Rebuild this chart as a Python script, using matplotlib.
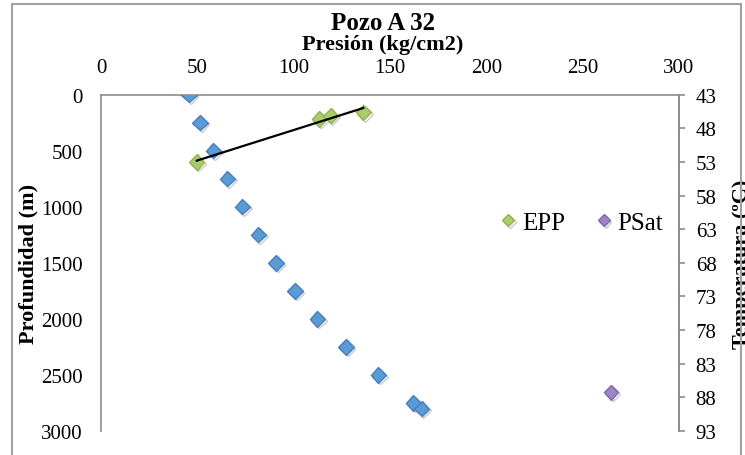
import matplotlib
matplotlib.use("Agg")
import matplotlib.pyplot as plt
import matplotlib.patheffects as pe
from matplotlib.patches import Rectangle
import numpy as np

# series (pressure kg/cm2 vs depth m)
perfil_depth = [0, 250, 500, 750, 1000, 1250, 1500, 1750, 2000, 2250, 2500, 2750, 2800]
perfil_pres = [45.7, 51.4, 58.3, 65.5, 73.3, 81.6, 90.8, 100.7, 112.3, 127.1, 143.9, 162.1, 166.4]

epp_pres = [49.7, 113.3, 119.2, 136.1]
epp_depth = [600, 217, 187, 157]

psat_pres = [264.7]
psat_depth = [2655]

x_ticks = [0, 50, 100, 150, 200, 250, 300]
depth_ticks = [0, 500, 1000, 1500, 2000, 2500, 3000]
temp_ticks = [43, 48, 53, 58, 63, 68, 73, 78, 83, 88, 93]

plt.rcParams['font.family'] = ['Liberation Serif', 'DejaVu Serif']
grey = "#8c8c8c"

fig = plt.figure(figsize=(7.45, 4.56), dpi=100)
ax = fig.add_axes([101/745, 24/456, 578/745, 336.3/456])

shadow = [pe.SimpleLineShadow(offset=(1.2, -1.2), shadow_color="#999999", alpha=0.5), pe.Normal()]

ax.plot(perfil_pres, perfil_depth, linestyle="none", marker="D", markersize=7.8,
        markerfacecolor="#5b9bd5", markeredgecolor="#467fbf", markeredgewidth=1,
        path_effects=shadow, zorder=3)
ax.plot(epp_pres, epp_depth, linestyle="none", marker="D", markersize=7.8,
        markerfacecolor="#a9cc6c", markeredgecolor="#8fb252", markeredgewidth=1,
        path_effects=shadow, label="EPP", zorder=3)
ax.plot(psat_pres, psat_depth, linestyle="none", marker="D", markersize=7.5,
        markerfacecolor="#9c86c7", markeredgecolor="#7f67aa", markeredgewidth=1,
        path_effects=shadow, label="PSat", zorder=3)

# linear trendline of EPP
coef = np.polyfit(epp_pres, epp_depth, 1)
xs = np.array([min(epp_pres), max(epp_pres)])
ax.plot(xs, np.polyval(coef, xs), color="black", linewidth=1.6, zorder=4)

ax.set_xlim(0, 300)
ax.set_ylim(3000, 0)
ax.set_xticks(x_ticks)
ax.set_yticks(depth_ticks)
ax.xaxis.tick_top()
ax.tick_params(axis="x", length=0, pad=13, labelsize=15)
ax.tick_params(axis="y", length=0, pad=13, labelsize=15)
for s in ["top", "left", "right"]:
    ax.spines[s].set_color(grey)
    ax.spines[s].set_linewidth(1.2)
ax.spines["bottom"].set_visible(False)
ax.set_ylabel("Profundidad (m)", fontsize=16, fontweight="bold")
ax.yaxis.set_label_coords(-0.108, 0.5)

ax2 = ax.twinx()
ax2.set_ylim(93, 43)
ax2.set_yticks(temp_ticks)
ax2.tick_params(axis="y", length=4, width=1.2, color=grey, pad=8, labelsize=15)
for s in ["top", "left", "bottom"]:
    ax2.spines[s].set_visible(False)
ax2.spines["right"].set_color(grey)
ax2.spines["right"].set_linewidth(1.2)
ax2.set_ylabel("Temperatura (ºC)", fontsize=16, fontweight="bold", va="top")
ax2.yaxis.set_label_coords(1.091, 0.5)

leg = ax.legend(loc="center left", bbox_to_anchor=(0.655, 0.62), ncol=2, frameon=False,
                fontsize=18, handlelength=0.5, handletextpad=0.3, columnspacing=1.3,
                markerscale=0.8)

fig.text(383/745, 1 - 23/456, "Pozo A 32", ha="center", va="center", fontsize=18, fontweight="bold")
fig.text(383/745, 1 - 45/456, "Presión (kg/cm2)", ha="center", va="center", fontsize=16, fontweight="bold")

fig.patches.append(Rectangle((11.5/745, -0.1), 729/745, 1.1 - 5/456, transform=fig.transFigure,
                             fill=False, edgecolor="#a0a0a0", linewidth=1.5, zorder=0))

fig.savefig("out.png", dpi=100)
